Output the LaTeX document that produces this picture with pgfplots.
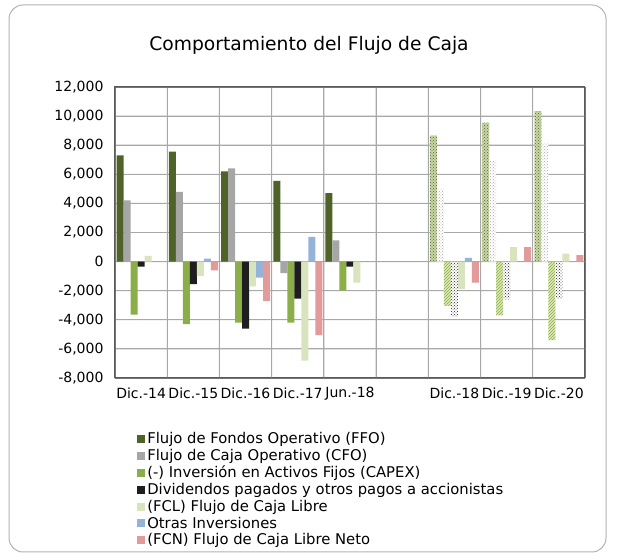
\documentclass[border=0pt]{standalone}
\usepackage{pgfplots}
\pgfplotsset{compat=1.18}
\usepackage{fontspec}
\setmainfont{DejaVu Sans}
\usetikzlibrary{patterns}
\definecolor{ffo}{HTML}{4F6228}
\definecolor{cfo}{HTML}{A6A6A6}
\definecolor{capex}{HTML}{8CAE48}
\definecolor{divi}{HTML}{1E1E1E}
\definecolor{fcl}{HTML}{D8E4BE}
\definecolor{otras}{HTML}{95B3D7}
\definecolor{fcn}{HTML}{E39A9A}
\definecolor{ffol}{HTML}{C9D6A8}
\definecolor{capexl}{HTML}{DCE8B8}
\definecolor{gridc}{HTML}{A8A8A8}
\definecolor{framec}{HTML}{5A5A5A}
\begin{document}
\begin{tikzpicture}
\begin{axis}[
  at={(115pt,178pt)}, anchor=south west,
  scale only axis, width=470pt, height=291pt,
  bar width=7pt, clip=false,
  xmin=-0.5, xmax=8.5, ymin=-8000, ymax=12000,
  ytick={-8000,-6000,...,12000},
  scaled y ticks=false,
  yticklabel style={/pgf/number format/1000 sep={,}, /pgf/number format/assume math mode=true},
  xtick={0,1,2,3,4,5,6,7,8},
  xticklabels={Dic.-14,Dic.-15,Dic.-16,Dic.-17,Jun.-18,{},Dic.-18,Dic.-19,Dic.-20},
  minor xtick={-0.5,0.5,...,8.5},
  xminorgrids=true, ymajorgrids=true,
  grid style={draw=gridc, line width=0.9pt},
  minor grid style={draw=gridc, line width=0.9pt},
  tick style={draw=none},
  axis line style={draw=framec, line width=1pt},
  tick label style={font=\fontsize{14}{16}\selectfont},
  yticklabel style={xshift=-8pt},
  xticklabel style={yshift=-6pt},
  legend style={at={(0.047,-0.18)}, anchor=north west, draw=none, fill=none,
    font=\fontsize{14.8}{16}\selectfont, row sep=0pt, inner sep=0pt},
  legend cell align=left,
  legend image code/.code={\fill[#1] (0pt,-4pt) rectangle (8pt,4pt);},
]
% grid lines as thin filled bars
\addplot[forget plot, ybar, bar width=0.9pt, bar shift=0pt, draw=none, fill=gridc] coordinates {(0.5,12000) (1.5,12000) (2.5,12000) (3.5,12000) (4.5,12000) (5.5,12000) (6.5,12000) (7.5,12000)};
\addplot[forget plot, ybar, bar width=0.9pt, bar shift=0pt, draw=none, fill=gridc] coordinates {(0.5,-8000) (1.5,-8000) (2.5,-8000) (3.5,-8000) (4.5,-8000) (5.5,-8000) (6.5,-8000) (7.5,-8000)};
\addplot[forget plot, xbar, bar width=0.9pt, bar shift=0pt, draw=none, fill=gridc] coordinates {(8.5,-6000) (8.5,-4000) (8.5,-2000) (8.5,0) (8.5,2000) (8.5,4000) (8.5,6000) (8.5,8000) (8.5,10000)};
\addplot[forget plot, xbar, bar width=0.9pt, bar shift=0pt, draw=none, fill=gridc] coordinates {(-0.5,-6000) (-0.5,-4000) (-0.5,-2000) (-0.5,0) (-0.5,2000) (-0.5,4000) (-0.5,6000) (-0.5,8000) (-0.5,10000)};
% Actual values
\addplot[ybar, draw=none, fill=ffo, bar shift=-21pt] coordinates {(0,7300) (1,7550) (2,6200) (3,5550) (4,4700)};
\addplot[ybar, draw=none, fill=cfo, bar shift=-14pt] coordinates {(0,4200) (1,4800) (2,6400) (3,-800) (4,1450)};
\addplot[ybar, draw=none, fill=capex, bar shift=-7pt] coordinates {(0,-3650) (1,-4300) (2,-4200) (3,-4200) (4,-2000)};
\addplot[ybar, draw=none, fill=divi, bar shift=0pt] coordinates {(0,-350) (1,-1550) (2,-4600) (3,-2550) (4,-350)};
\addplot[ybar, draw=none, fill=fcl, bar shift=7pt] coordinates {(0,400) (1,-1000) (2,-1700) (3,-6800) (4,-1450)};
\addplot[ybar, draw=none, fill=otras, bar shift=14pt] coordinates {(0,0) (1,200) (2,-1100) (3,1700) (4,0)};
\addplot[ybar, draw=none, fill=fcn, bar shift=21pt] coordinates {(0,0) (1,-600) (2,-2700) (3,-5050) (4,0)};
\legend{Flujo de Fondos Operativo (FFO),Flujo de Caja Operativo (CFO),(-) Inversión en Activos Fijos (CAPEX),Dividendos pagados y otros pagos a accionistas,(FCL) Flujo de Caja Libre,Otras Inversiones,(FCN) Flujo de Caja Libre Neto}
% Projected values
\addplot[ybar, forget plot, draw=none, fill=ffol, postaction={pattern=crosshatch dots, pattern color=ffo}, bar shift=-21pt] coordinates {(6,8650) (7,9550) (8,10350)};
\addplot[ybar, forget plot, draw=none, fill=white, postaction={pattern=crosshatch dots, pattern color=cfo}, bar shift=-14pt] coordinates {(6,4950) (7,6950) (8,8100)};
\addplot[ybar, forget plot, draw=none, fill=capexl, postaction={pattern=north east lines, pattern color=capex}, bar shift=-7pt] coordinates {(6,-3050) (7,-3700) (8,-5400)};
\addplot[ybar, forget plot, draw=none, fill=white, postaction={pattern=crosshatch dots, pattern color=divi}, bar shift=0pt] coordinates {(6,-3800) (7,-2600) (8,-2550)};
\addplot[ybar, forget plot, draw=none, fill=fcl, bar shift=7pt] coordinates {(6,-1900) (7,1000) (8,550)};
\addplot[ybar, forget plot, draw=none, fill=otras, bar shift=14pt] coordinates {(6,250) (7,0) (8,0)};
\addplot[ybar, forget plot, draw=none, fill=fcn, bar shift=21pt] coordinates {(6,-1450) (7,1000) (8,450)};
% frame as thin filled bars
\addplot[forget plot, ybar, bar width=1.2pt, bar shift=0pt, draw=none, fill=framec] coordinates {(-0.5,12000) (8.5,12000)};
\addplot[forget plot, ybar, bar width=1.2pt, bar shift=0pt, draw=none, fill=framec] coordinates {(-0.5,-8000) (8.5,-8000)};
\addplot[forget plot, xbar, bar width=1.2pt, bar shift=0pt, draw=none, fill=framec] coordinates {(8.5,-8000) (8.5,12000)};
\addplot[forget plot, xbar, bar width=1.2pt, bar shift=0pt, draw=none, fill=framec] coordinates {(-0.5,-8000) (-0.5,12000)};
\end{axis}
\path (0pt,0pt) rectangle (625pt,556pt);
\draw[gray!60, line width=1pt, rounded corners=14pt] (9pt,4pt) rectangle (606pt,551pt);
\node[font=\fontsize{18.7}{22}\selectfont] at (309pt,511pt) {Comportamiento del Flujo de Caja};
\end{tikzpicture}
\end{document}
